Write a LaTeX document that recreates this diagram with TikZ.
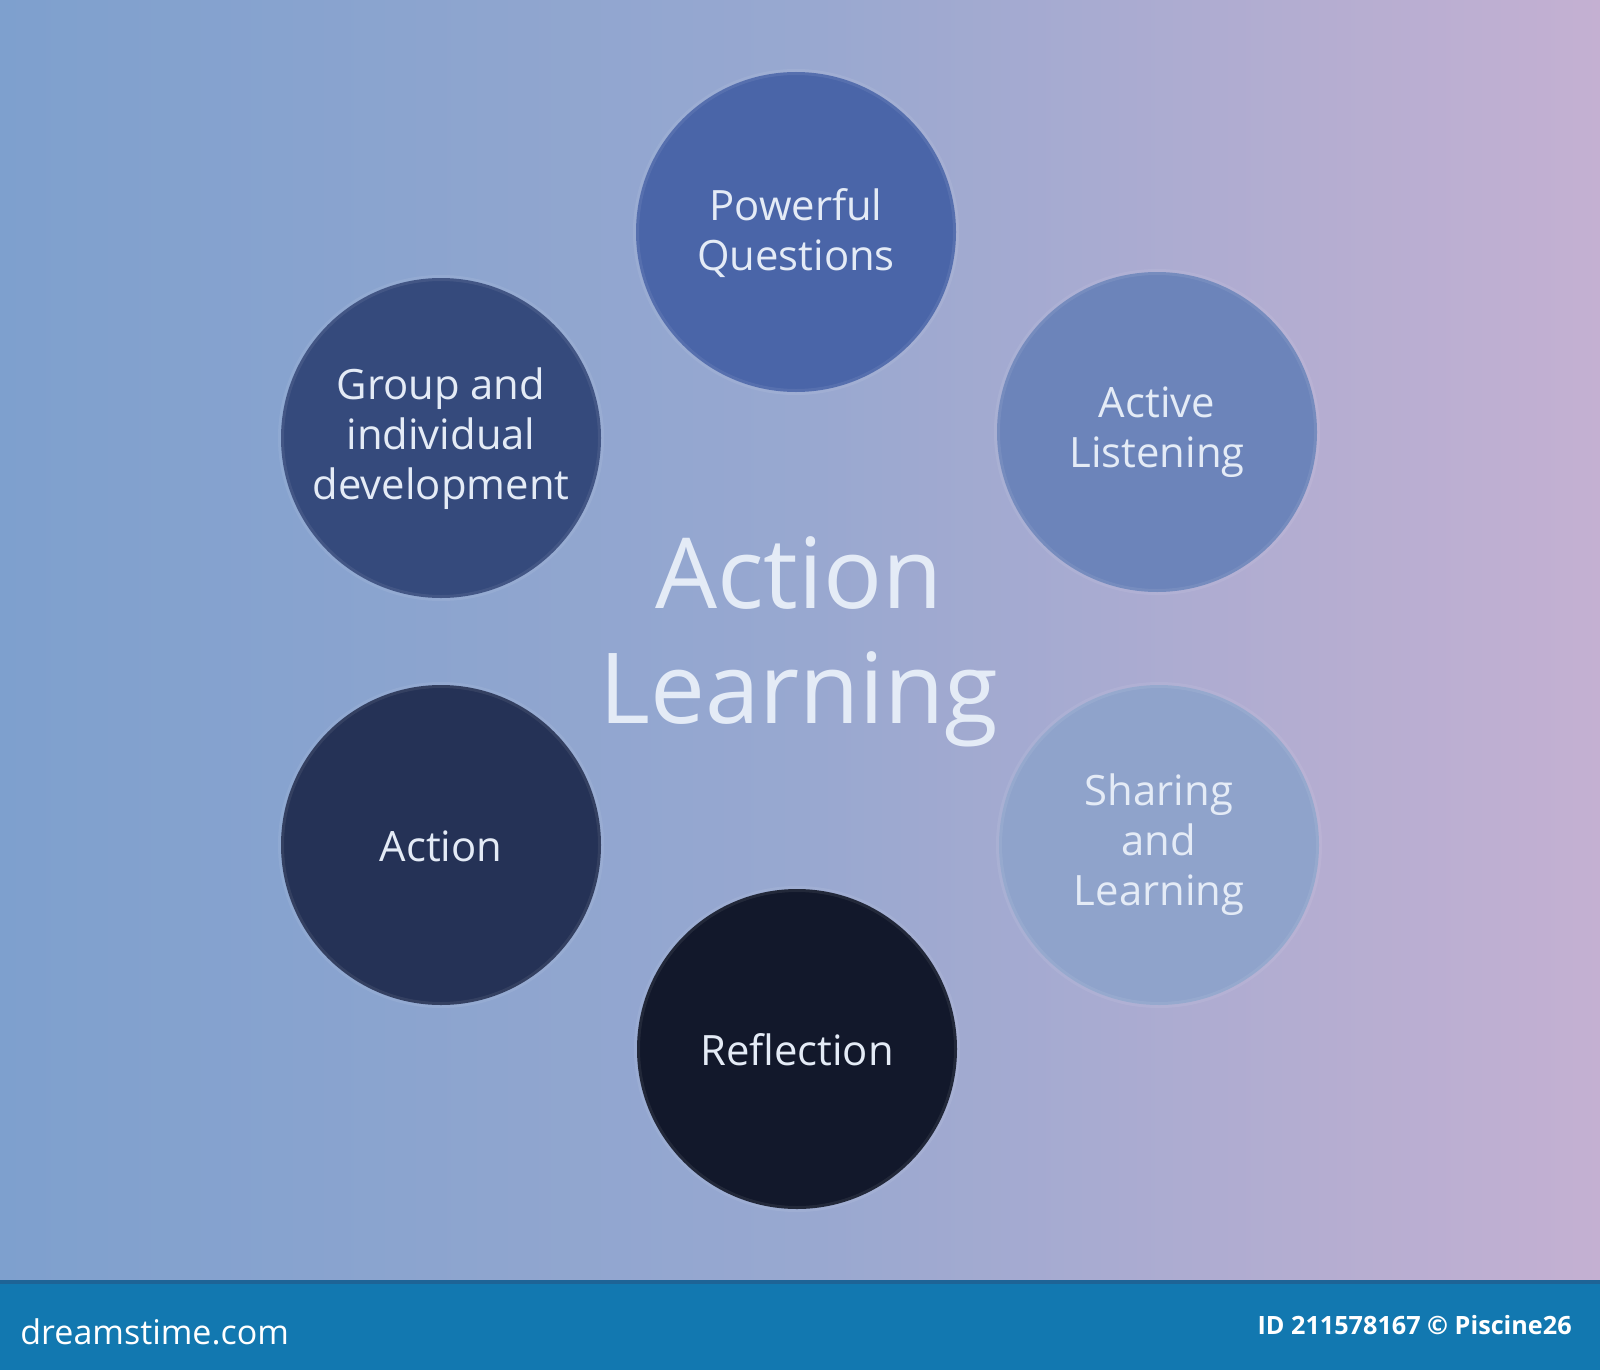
\documentclass[tikz,border=0pt]{standalone}
\usepackage{fontspec}
\setmainfont{Open Sans}
\begin{document}
\begin{tikzpicture}[x=0.5pt,y=-0.5pt]
\definecolor{bgL}{RGB}{126,160,206}
\definecolor{bgM}{RGB}{152,168,208}
\definecolor{bgR}{RGB}{196,176,210}
\definecolor{cPQ}{RGB}{74,101,168}
\definecolor{cAL}{RGB}{108,132,186}
\definecolor{cSL}{RGB}{143,163,203}
\definecolor{cRF}{RGB}{18,24,43}
\definecolor{cAC}{RGB}{37,50,86}
\definecolor{cGI}{RGB}{53,74,124}
\definecolor{txt}{RGB}{228,235,246}
\definecolor{bar}{RGB}{18,120,176}
\definecolor{barline}{RGB}{30,100,150}
\tikzset{
  bubble/.style={circle, minimum size=160pt, inner sep=0pt, draw=white, draw opacity=0.07, line width=3pt},
  lbl/.style={text=txt, align=center, font=\fontsize{20.9}{25}\selectfont},
  title/.style={text=txt, align=center, font=\fontsize{49}{57.5}\selectfont},
}
\useasboundingbox (0,0) rectangle (1600,1370);
% background
\shade[left color=bgL, right color=bgR, middle color=bgM] (0,0) rectangle (1600,1282);
% bottom bar
\fill[bar] (0,1282) rectangle (1600,1370);
\fill[barline] (0,1280) rectangle (1600,1284);
% bubbles
\node[bubble, fill=cPQ] (pq) at (796,232) {};
\node[bubble, fill=cAL] (al) at (1157,432) {};
\node[bubble, fill=cSL] (sl) at (1159,845) {};
\node[bubble, fill=cRF] (rf) at (797,1049) {};
\node[bubble, fill=cAC] (ac) at (441,845) {};
\node[bubble, fill=cGI] (gi) at (441,438) {};
% labels
\node[lbl] (pqt) at (796,233) {Powerful\\Questions};
\node[lbl] (alt) at (1157,432) {Active\\Listening};
\node[lbl] (slt) at (1159,845) {Sharing\\and\\Learning};
\node[lbl] (rft) at (797,1050) {Reflection};
\node[lbl] (act) at (441,846) {Action};
\node[lbl] (git) at (441,439) {Group and\\individual\\development};
% title
\node[title] (ttl) at (799,642) {Action\\Learning};
% bar texts
\node[anchor=west, text=white, font=\fontsize{17}{20}\selectfont, inner sep=0pt] (ds) at (20,1332) {dreamstime.com};
\node[anchor=east, text=white, font=\fontsize{12.6}{15}\selectfont\bfseries, inner sep=0pt] (id) at (1572,1325) {ID 211578167 © Piscine26};
\end{tikzpicture}
\end{document}
